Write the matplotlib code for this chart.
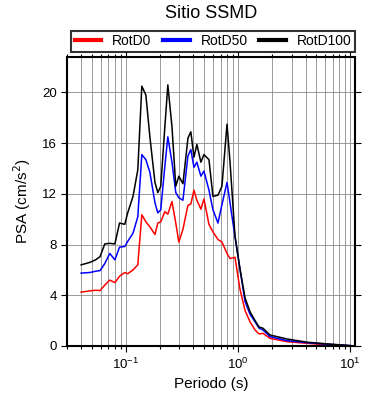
import numpy as np
import matplotlib.pyplot as plt
from matplotlib.ticker import LogLocator, FixedLocator

plt.rcParams['font.family'] = ['Liberation Sans', 'DejaVu Sans']

# Data (period in s, PSA in cm/s^2)
periodo = [0.040, 0.048, 0.054, 0.059, 0.065, 0.072, 0.080, 0.088, 0.098, 0.104,
           0.116, 0.128, 0.139, 0.151, 0.164, 0.182, 0.193, 0.205, 0.223, 0.237,
           0.258, 0.279, 0.297, 0.323, 0.358, 0.380, 0.405, 0.430, 0.467, 0.497,
           0.551, 0.598, 0.663, 0.719, 0.798, 0.849, 0.94, 1.04, 1.155, 1.28,
           1.42, 1.54, 1.67, 1.93, 2.74, 4.13, 6.6, 10.0]

rotd0 = [4.25, 4.35, 4.4, 4.37, 4.8, 5.2, 5.0, 5.5, 5.8, 5.7,
         6.0, 6.4, 10.35, 9.8, 9.4, 8.8, 9.7, 9.8, 10.6, 10.4,
         11.4, 9.7, 8.2, 9.2, 11.1, 11.2, 12.3, 11.5, 10.8, 11.6,
         9.6, 9.0, 8.4, 8.2, 7.3, 6.9, 7.0, 4.5, 2.8, 1.9,
         1.26, 0.95, 1.0, 0.6, 0.34, 0.21, 0.08, 0.02]

rotd50 = [5.75, 5.8, 5.9, 5.95, 6.5, 7.3, 6.8, 7.8, 7.85, 8.25,
          8.9, 10.2, 15.1, 14.7, 13.7, 11.3, 10.5, 10.75, 14.2, 16.5,
          14.5, 12.1, 11.7, 11.5, 15.0, 15.5, 14.1, 14.5, 13.4, 13.8,
          12.3, 10.75, 9.7, 11.15, 12.9, 11.3, 8.6, 6.1, 3.5, 2.5,
          1.9, 1.4, 1.26, 0.74, 0.42, 0.26, 0.13, 0.03]

rotd100 = [6.4, 6.6, 6.8, 7.05, 8.05, 8.1, 8.05, 9.7, 9.6, 10.5,
           11.8, 13.9, 20.5, 19.8, 16.5, 12.9, 12.1, 12.6, 17.3, 20.6,
           17.3, 12.6, 13.4, 12.8, 16.4, 16.9, 14.9, 15.9, 14.5, 15.1,
           14.7, 11.8, 11.9, 12.6, 17.5, 14.5, 8.7, 6.1, 3.8, 2.7,
           2.0, 1.5, 1.4, 0.87, 0.55, 0.3, 0.15, 0.03]

fig = plt.figure(figsize=(3.9, 4.0), dpi=100)
ax = fig.add_axes([0.172, 0.135, 0.738, 0.7225])

ax.plot(periodo, rotd0, color='red', lw=1.1, label='RotD0')
ax.plot(periodo, rotd50, color='blue', lw=1.1, label='RotD50')
ax.plot(periodo, rotd100, color='black', lw=1.1, label='RotD100')

ax.set_xscale('log')
ax.set_xlim(0.03, 11)
ax.set_ylim(0, 22.8)
ax.yaxis.set_major_locator(FixedLocator([0, 4, 8, 12, 16, 20]))
ax.xaxis.set_major_locator(LogLocator(base=10))
ax.xaxis.set_minor_locator(LogLocator(base=10, subs=np.arange(2, 10)))

ax.grid(True, which='both', axis='x', color='#8a8a8a', lw=0.6)
ax.grid(True, which='major', axis='y', color='#8a8a8a', lw=0.6)
ax.set_axisbelow(True)

ax.tick_params(which='both', direction='out', top=True, right=True,
               labelsize=9.5, width=0.8, color='black')
ax.tick_params(which='major', length=4)
ax.tick_params(which='minor', length=2)
for s in ax.spines.values():
    s.set_linewidth(1.5)

ax.set_xlabel('Periodo (s)', fontsize=11, labelpad=4)
ax.set_ylabel('PSA (cm/s$^2$)', fontsize=11, labelpad=6)

fig.text(0.541, 0.967, 'Sitio SSMD', ha='center', va='center', fontsize=13)

leg = ax.legend(loc='lower left', bbox_to_anchor=(0.015, 1.018, 0.985, 0.075),
                mode='expand', ncol=3, fontsize=10, frameon=True, fancybox=False,
                handlelength=1.9, handletextpad=0.8, borderaxespad=0,
                borderpad=0.25, columnspacing=1.2)
leg.get_frame().set_edgecolor('black')
leg.get_frame().set_linewidth(1.5)
for line in leg.get_lines():
    line.set_linewidth(3)

fig.savefig('out.png', dpi=100)
